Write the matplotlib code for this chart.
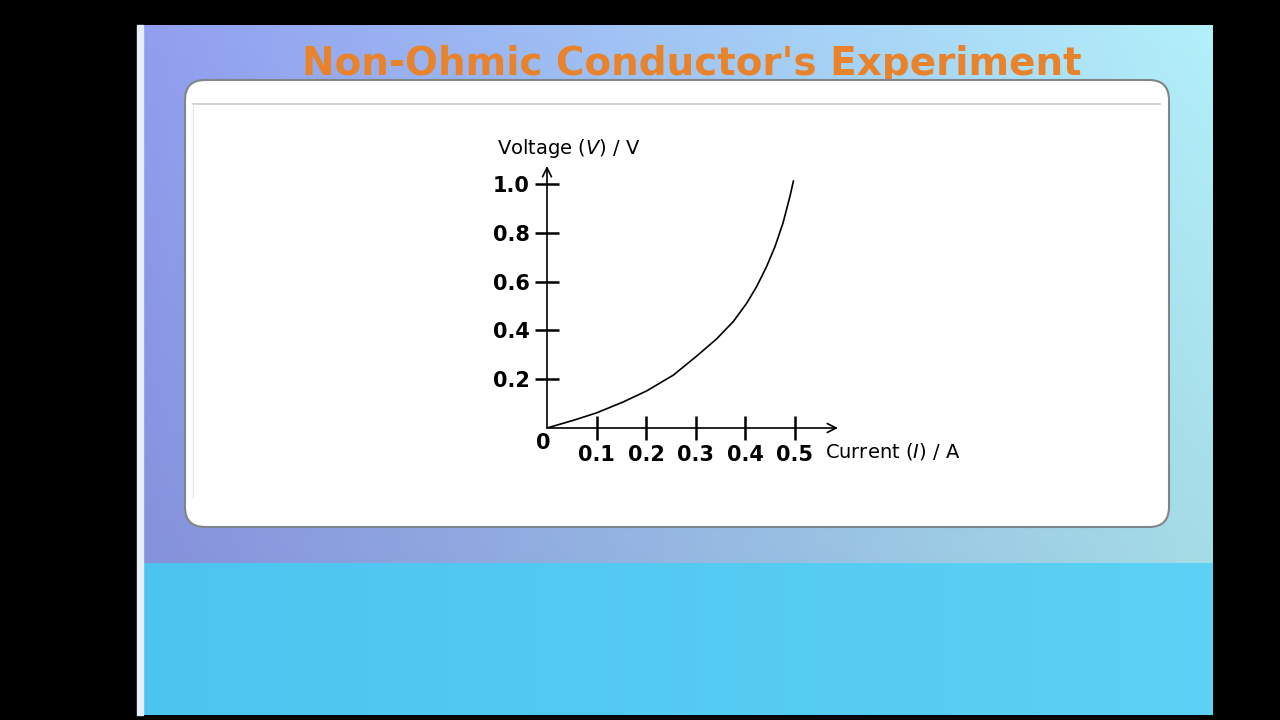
import numpy as np
import matplotlib.pyplot as plt
from matplotlib.patches import FancyBboxPatch, Rectangle

# values
current = [0, 0.054, 0.1, 0.154, 0.201, 0.255, 0.302, 0.342, 0.376, 0.403,
           0.423, 0.443, 0.46, 0.476, 0.49, 0.497]
voltage = [0, 0.032, 0.062, 0.107, 0.152, 0.217, 0.295, 0.365, 0.437, 0.512,
           0.580, 0.662, 0.744, 0.840, 0.949, 1.012]
x_ticks = [0.1, 0.2, 0.3, 0.4, 0.5]
y_ticks = [0.2, 0.4, 0.6, 0.8, 1.0]

plt.rcParams['mathtext.fontset'] = 'custom'
plt.rcParams['mathtext.it'] = 'DejaVu Sans:italic'

W, H = 1280, 720
fig = plt.figure(figsize=(12.8, 7.2), dpi=100, facecolor='black')

# slide background in pixel coordinates
bg = fig.add_axes([0, 0, 1, 1])
bg.set_xlim(0, W)
bg.set_ylim(H, 0)
bg.axis('off')
bg.set_facecolor('black')

# upper gradient (purple-blue on the left to pale cyan on the right)
nx, ny = 200, 50
gx = np.linspace(0, 1, nx)[None, :, None]
gy = np.linspace(0, 1, ny)[:, None, None]
left = np.array([0.57, 0.62, 0.94])
right = np.array([0.70, 0.94, 0.98])
top_img = left * (1 - gx) + right * gx
top_img = top_img * (1 - 0.08 * gy)
bg.imshow(np.clip(top_img, 0, 1), extent=[143, 1213, 563, 25], aspect='auto', zorder=1)

# lower band
low_l = np.array([0.30, 0.77, 0.94])
low_r = np.array([0.36, 0.82, 0.96])
low_img = low_l * (1 - gx) + low_r * gx
low_img = np.repeat(low_img[:1], 10, axis=0)
bg.imshow(np.clip(low_img, 0, 1), extent=[143, 1213, 715, 563], aspect='auto', zorder=1)
bg.add_patch(Rectangle((137, 25), 6, 690, color='#e8eef5', zorder=2))

# title
bg.text(692, 64, "Non-Ohmic Conductor's Experiment", color='#e8832b', fontsize=28,
        fontweight='bold', family='DejaVu Sans', ha='center', va='center', zorder=3)

# white rounded panel
bg.add_patch(FancyBboxPatch((185, 80), 984, 447, boxstyle='round,pad=0,rounding_size=20',
                            facecolor='white', edgecolor='#7f8588', lw=1.5, zorder=4))
bg.plot([193, 1160], [104, 104], color='#d4d4d4', lw=1.5, zorder=5)
bg.plot([193, 193], [104, 497], color='#e6e6e6', lw=1, zorder=5)

# graph axes: origin at (547, 428) px
x0, x1, y0, y1 = 547, 838, 428, 166
ax = fig.add_axes([x0 / W, 1 - y0 / H, (x1 - x0) / W, (y0 - y1) / H])
ax.set_facecolor('none')
ax.set_xlim(0, 0.587)
ax.set_ylim(0, 1.074)
for s in ax.spines.values():
    s.set_visible(False)

ax.plot(current, voltage, color='black', lw=1.2, solid_joinstyle='round', zorder=5)

arrow = dict(arrowstyle='->', lw=1.2, color='black', mutation_scale=16, shrinkA=0, shrinkB=0)
ax.annotate('', xy=(0.587, 0), xytext=(0, 0), arrowprops=arrow, annotation_clip=False)
ax.annotate('', xy=(0, 1.074), xytext=(0, 0), arrowprops=arrow, annotation_clip=False)

ax.set_xticks(x_ticks)
ax.set_yticks(y_ticks)
ax.set_xticklabels([f'{v:.1f}' for v in x_ticks])
ax.set_yticklabels([f'{v:.1f}' for v in y_ticks])
ax.tick_params(axis='both', direction='inout', length=17, width=1.8, color='black',
               labelsize=15, pad=4)
for lab in ax.get_xticklabels() + ax.get_yticklabels():
    lab.set_fontweight('bold')

ax.text(-0.008, -0.06, '0', fontsize=15, fontweight='bold', ha='center', va='center',
        transform=ax.transData)
ax.text(-0.10, 1.145, r'Voltage ($\mathit{V}$) / V', fontsize=14, ha='left', va='center',
        transform=ax.transData, clip_on=False)
ax.text(0.56, -0.095, r'Current ($\mathit{I}$) / A', fontsize=14, ha='left', va='center',
        transform=ax.transData, clip_on=False)

fig.savefig('out.png', dpi=100, facecolor='black')
